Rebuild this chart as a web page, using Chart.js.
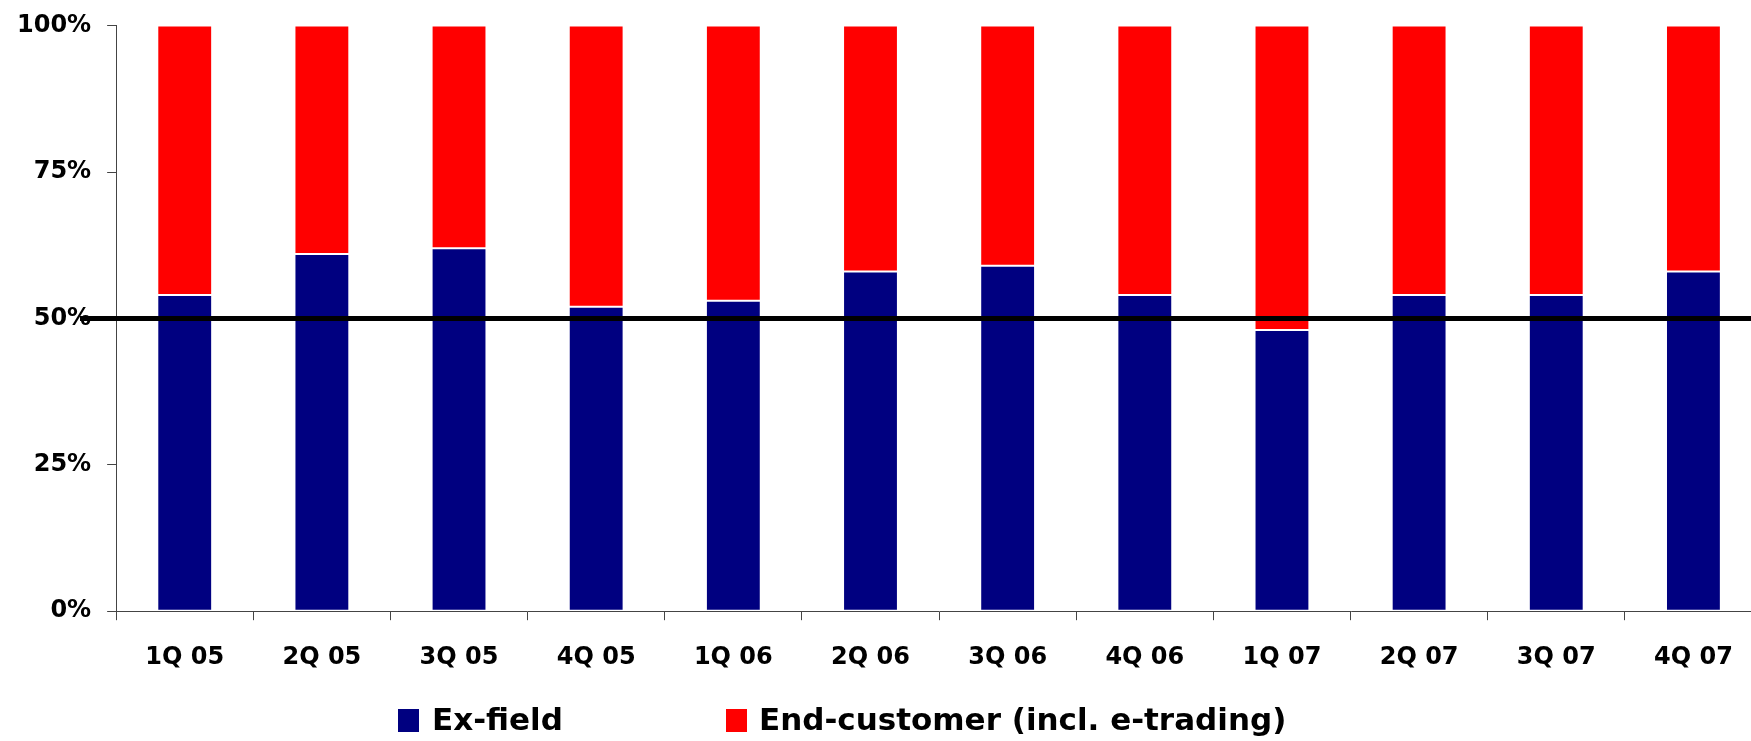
<!DOCTYPE html>
<html>
<head>
<meta charset="utf-8">
<script src="https://cdn.jsdelivr.net/npm/chart.js@4.4.1/dist/chart.umd.min.js"></script>
<style>
  html, body { margin: 0; padding: 0; background: #ffffff; overflow: hidden; }
  #wrap { position: relative; width: 1770px; height: 741px; }
  #legend { position: absolute; left: 0; top: 0; width: 1751px; height: 741px; pointer-events: none;
            font-family: "DejaVu Sans", sans-serif; font-weight: bold; font-size: 31px; color: #000; }
  .sw { position: absolute; width: 21px; height: 23px; }
  .lt { position: absolute; line-height: 1; white-space: nowrap; }
</style>
</head>
<body>
<div id="wrap">
  <canvas id="chart" width="1770" height="741"></canvas>
  <div id="legend"></div>
</div>
<script>
// Quarterly split of volumes between the two sales channels (share in %)
const quarters = ['1Q 05', '2Q 05', '3Q 05', '4Q 05', '1Q 06', '2Q 06', '3Q 06', '4Q 06', '1Q 07', '2Q 07', '3Q 07', '4Q 07'];
const exField = [54, 61, 62, 52, 53, 58, 59, 54, 48, 54, 54, 58];
const endCustomer = [46, 39, 38, 48, 47, 42, 41, 46, 52, 46, 46, 42];
const seriesNames = ['Ex-field', 'End-customer (incl. e-trading)'];
const seriesColors = ['#000080', '#ff0000'];
const yTicks = [0, 25, 50, 75, 100];
const referenceLevel = 50;

const FONT = '"DejaVu Sans", sans-serif';

// Thick horizontal marker at the 50% level
const referenceLine = {
  id: 'referenceLine',
  afterDraw(chart) {
    const y = chart.scales.y.getPixelForValue(referenceLevel);
    const ctx = chart.ctx;
    ctx.save();
    ctx.strokeStyle = '#000000';
    ctx.lineWidth = 5;
    ctx.beginPath();
    ctx.moveTo(80, y);
    ctx.lineTo(chart.width, y);
    ctx.stroke();
    ctx.restore();
  }
};

new Chart(document.getElementById('chart'), {
  type: 'bar',
  data: {
    labels: quarters,
    datasets: [
      { label: seriesNames[0], data: exField, backgroundColor: seriesColors[0],
        borderColor: '#ffffff', borderWidth: 1, borderSkipped: false },
      { label: seriesNames[1], data: endCustomer, backgroundColor: seriesColors[1],
        borderColor: '#ffffff', borderWidth: 1, borderSkipped: false }
    ]
  },
  options: {
    responsive: false,
    animation: false,
    devicePixelRatio: 1,
    layout: { padding: { left: 1, right: 8, top: 4, bottom: 46 } },
    datasets: { bar: { categoryPercentage: 1.0, barPercentage: 0.40 } },
    plugins: { legend: { display: false }, tooltip: { enabled: false } },
    scales: {
      x: {
        stacked: true,
        grid: { display: true, drawOnChartArea: false, tickLength: 9, color: '#444444', offset: true },
        border: { display: true, color: '#444444', width: 1 },
        ticks: { color: '#000000', padding: 23, maxRotation: 0,
                 font: { family: FONT, size: 24, weight: 'bold' } }
      },
      y: {
        stacked: true,
        min: 0,
        max: 100,
        afterBuildTicks(scale) { scale.ticks = yTicks.map(v => ({ value: v })); },
        grid: { display: true, drawOnChartArea: false, tickLength: 9, color: '#444444' },
        border: { display: true, color: '#444444', width: 1 },
        ticks: { color: '#000000', padding: 16,
                 font: { family: FONT, size: 24, weight: 'bold', lineHeight: 0.8 },
                 callback: v => v + '%' }
      }
    }
  },
  plugins: [referenceLine]
});

// Legend below the axis
const legend = document.getElementById('legend');
const legendPos = [{ box: 398, text: 432 }, { box: 726, text: 759 }];
seriesNames.forEach((name, i) => {
  const sw = document.createElement('div');
  sw.className = 'sw';
  sw.style.left = legendPos[i].box + 'px';
  sw.style.top = '709px';
  sw.style.background = seriesColors[i];
  legend.appendChild(sw);
  const t = document.createElement('div');
  t.className = 'lt';
  t.style.left = legendPos[i].text + 'px';
  t.style.top = '704px';
  t.textContent = name;
  legend.appendChild(t);
});
</script>
</body>
</html>
